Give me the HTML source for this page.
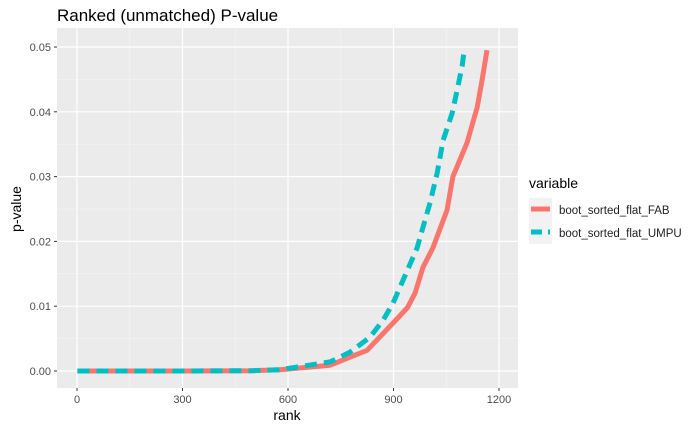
<!DOCTYPE html>
<html><head><meta charset="utf-8"><style>
body{margin:0;background:#fff;font-family:"Liberation Sans",sans-serif}
svg{display:block}
</style></head><body>
<svg id="chart" width="700" height="432" font-family="Liberation Sans, sans-serif">
<text x="57" y="21" font-size="17" fill="#000">Ranked (unmatched) P-value</text>
<rect x="57" y="28" width="461" height="360" fill="#ebebeb"/>
<g id="grid"></g>
<g id="series"></g>
<g id="axes"></g>
<text x="287" y="420" font-size="14" text-anchor="middle">rank</text>
<text transform="translate(21,209) rotate(-90)" font-size="14" text-anchor="middle">p-value</text>
<g>
<text x="529" y="188" font-size="14">variable</text>
<rect x="529" y="198" width="23" height="46" fill="#f2f2f2"/>
<line x1="531" x2="550" y1="209" y2="209" stroke="#F8766D" stroke-width="5"/>
<line x1="531" x2="550" y1="232" y2="232" stroke="#00BFC4" stroke-width="5" stroke-dasharray="11,6"/>
<text x="559" y="214" font-size="11.5" fill="#222">boot_sorted_flat_FAB</text>
<text x="559" y="237" font-size="11.5" fill="#222">boot_sorted_flat_UMPU</text>
</g>
</svg>
<script>
const xTicks=[0,300,600,900,1200];
const yTicks=[0,0.01,0.02,0.03,0.04,0.05];
const yTickLabels=["0.00","0.01","0.02","0.03","0.04","0.05"];
const fabRank=[1,300,500,577,720,825,899,940,961,984,1012,1052,1069,1109,1138,1152,1166];
const fabP=[0,0,0.00005,0.0002,0.0009,0.0032,0.0074,0.0098,0.012,0.016,0.019,0.0248,0.030,0.0352,0.0407,0.0449,0.0495];
const umpuRank=[1,300,500,577,720,776,833,870,899,927,967,1004,1024,1041,1067,1081,1095,1101];
const umpuP=[0,0,0.00005,0.0002,0.0014,0.0029,0.0052,0.0078,0.0105,0.014,0.019,0.026,0.0305,0.0356,0.0398,0.0434,0.047,0.0495];
const NS="http://www.w3.org/2000/svg";
const xs=v=>77+(v/300)*105.5;
const ys=v=>371-v*6480;
function mk(t,a,p){const e=document.createElementNS(NS,t);for(const k in a)e.setAttribute(k,a[k]);p.appendChild(e);return e;}
const grid=document.getElementById('grid'),axes=document.getElementById('axes'),series=document.getElementById('series');
for(let i=0;i<xTicks.length-1;i++){const m=(xTicks[i]+xTicks[i+1])/2;const l=mk('line',{x1:xs(m),x2:xs(m),y1:28,y2:388,stroke:'#f5f5f5','stroke-width':0.6},grid);

}
for(let i=0;i<yTicks.length-1;i++){const m=(yTicks[i]+yTicks[i+1])/2;const l=mk('line',{x1:57,x2:518,y1:ys(m),y2:ys(m),stroke:'#f5f5f5','stroke-width':0.6},grid);

}
xTicks.forEach(v=>{const l=mk('line',{x1:xs(v),x2:xs(v),y1:28,y2:388,stroke:'#fff','stroke-width':1.2},grid);


const t=mk('line',{x1:xs(v),x2:xs(v),y1:388,y2:391,stroke:'#333'},axes);


const tx=mk('text',{x:xs(v),y:403,'font-size':11,'text-anchor':'middle',fill:'#4d4d4d'},axes);tx.textContent=v;

});
yTicks.forEach((v,i)=>{const l=mk('line',{x1:57,x2:518,y1:ys(v),y2:ys(v),stroke:'#fff','stroke-width':1.2},grid);


const t=mk('line',{x1:54,x2:57,y1:ys(v),y2:ys(v),stroke:'#333'},axes);


const tx=mk('text',{x:51,y:ys(v)+4,'font-size':11,'text-anchor':'end',fill:'#4d4d4d'},axes);tx.textContent=yTickLabels[i];

});
function path(r,p){return r.map((v,i)=>(i?'L':'M')+xs(v).toFixed(1)+','+ys(p[i]).toFixed(1)).join('');}
const f=mk('path',{d:path(fabRank,fabP),fill:'none',stroke:'#F8766D','stroke-width':5,'stroke-linejoin':'round'},series);


const u=mk('path',{d:path(umpuRank,umpuP),fill:'none',stroke:'#00BFC4','stroke-width':5,'stroke-dasharray':'12,7'},series);


</script>
</body></html>
